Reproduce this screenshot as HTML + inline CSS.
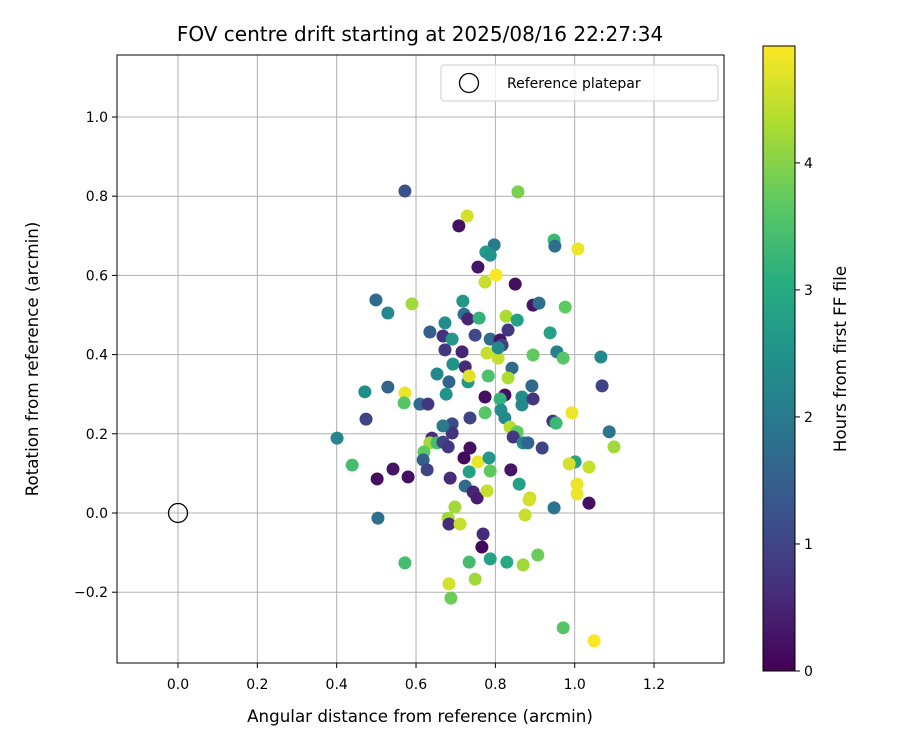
<!DOCTYPE html>
<html><head><meta charset="utf-8"><style>
body{margin:0;background:#fff;}
svg text{font-family:"DejaVu Sans","Liberation Sans",sans-serif;fill:#000;}
</style></head><body>
<svg id="chart" width="900" height="750" viewBox="0 0 900 750" xmlns="http://www.w3.org/2000/svg">
<defs>
<linearGradient id="vir" x1="0" y1="1" x2="0" y2="0">
<stop offset="0" stop-color="#440154"/><stop offset="0.125" stop-color="#472d7b"/><stop offset="0.25" stop-color="#3b528b"/><stop offset="0.375" stop-color="#2c728e"/><stop offset="0.5" stop-color="#21918c"/><stop offset="0.625" stop-color="#28ae80"/><stop offset="0.75" stop-color="#5ec962"/><stop offset="0.875" stop-color="#addc30"/><stop offset="1" stop-color="#fde725"/>
</linearGradient>
<clipPath id="plotclip"><rect x="117" y="55" width="607" height="608"/></clipPath>
</defs>
<rect width="900" height="750" fill="#fff"/>
<g id="grid"></g>
<g id="points" clip-path="url(#plotclip)"></g>
<rect x="117" y="55" width="607" height="608" fill="none" stroke="#000" stroke-width="1"/>
<g id="ticks"></g>
<text x="420" y="41" font-size="20" text-anchor="middle">FOV centre drift starting at 2025/08/16 22:27:34</text>
<text x="420" y="722" font-size="16.7" text-anchor="middle">Angular distance from reference (arcmin)</text>
<text transform="translate(38,359) rotate(-90)" font-size="16.7" text-anchor="middle">Rotation from reference (arcmin)</text>
<g>
<rect x="441" y="65" width="277" height="36" rx="3" fill="#fff" fill-opacity="0.8" stroke="#ccc"/>
<circle cx="469" cy="83" r="9.5" fill="none" stroke="#000" stroke-width="1.3"/>
<text x="507" y="88" font-size="14">Reference platepar</text>
</g>
<rect x="763" y="46" width="32" height="625" fill="url(#vir)" stroke="#000" stroke-width="1"/>
<g id="cbticks"></g>
<text transform="translate(846,359) rotate(-90)" font-size="16.7" text-anchor="middle">Hours from first FF file</text>
</svg>
<script>
const xs=[0.572,0.857,0.729,0.708,0.797,0.776,0.787,0.756,0.802,0.774,0.850,0.499,0.529,0.590,0.718,0.721,0.731,0.759,0.827,0.855,0.832,0.673,0.635,0.668,0.691,0.749,0.787,0.812,0.948,0.950,1.008,0.895,0.910,0.976,0.938,0.817,0.673,0.716,0.779,0.807,0.807,0.693,0.724,0.842,0.653,0.683,0.731,0.734,0.782,0.832,0.471,0.529,0.572,0.570,0.610,0.630,0.676,0.774,0.824,0.812,0.867,0.814,0.824,0.774,0.867,0.736,0.474,0.837,0.855,0.845,0.870,0.691,0.691,0.668,0.401,0.640,0.635,0.653,0.668,0.681,0.620,0.618,0.628,0.736,0.721,0.756,0.784,0.787,0.734,0.839,0.439,0.502,0.542,0.580,0.686,0.724,0.744,0.754,0.779,0.860,0.895,0.955,0.971,1.066,0.892,1.069,0.895,0.993,0.945,0.953,1.087,1.099,0.882,0.918,1.001,0.986,1.036,1.006,1.006,0.887,1.036,0.504,0.698,0.681,0.683,0.711,0.769,0.766,0.572,0.734,0.787,0.829,0.870,0.749,0.683,0.688,0.875,0.885,0.948,0.907,0.971,1.049];
const ys=[0.813,0.811,0.750,0.725,0.677,0.659,0.651,0.621,0.601,0.583,0.578,0.538,0.505,0.528,0.535,0.502,0.490,0.492,0.497,0.487,0.462,0.480,0.457,0.447,0.439,0.449,0.439,0.437,0.689,0.674,0.667,0.525,0.530,0.520,0.455,0.424,0.412,0.407,0.404,0.391,0.417,0.376,0.369,0.366,0.351,0.331,0.331,0.346,0.346,0.341,0.306,0.318,0.303,0.278,0.275,0.275,0.300,0.293,0.298,0.288,0.293,0.260,0.240,0.253,0.273,0.240,0.237,0.217,0.205,0.192,0.177,0.225,0.202,0.220,0.189,0.189,0.177,0.177,0.179,0.167,0.154,0.134,0.109,0.164,0.139,0.129,0.139,0.106,0.104,0.109,0.121,0.086,0.111,0.091,0.088,0.068,0.053,0.038,0.056,0.073,0.399,0.407,0.391,0.394,0.321,0.321,0.288,0.253,0.232,0.227,0.205,0.167,0.177,0.164,0.129,0.124,0.116,0.073,0.048,0.038,0.025,-0.013,0.015,-0.013,-0.028,-0.028,-0.053,-0.086,-0.126,-0.124,-0.116,-0.124,-0.131,-0.167,-0.179,-0.215,-0.005,0.033,0.013,-0.106,-0.290,-0.323];
const hours=[1.2,3.9,4.6,0.2,2.0,2.7,2.5,0.3,4.9,4.5,0.2,1.7,2.3,4.2,2.6,1.8,0.5,3.2,4.3,2.8,0.8,2.4,1.5,0.7,2.6,1.1,1.7,0.3,3.3,1.8,4.8,0.3,1.8,3.7,2.8,1.0,0.8,0.5,4.5,4.5,2.3,2.5,0.6,1.7,2.3,1.6,2.6,4.7,3.5,4.3,2.4,1.6,4.8,3.6,1.7,0.8,2.5,0.2,0.2,3.2,2.4,2.4,2.3,3.6,2.3,1.0,1.0,4.4,3.7,0.8,2.3,1.1,0.7,2.0,2.2,0.6,4.2,3.4,1.0,0.8,3.7,1.5,1.0,0.2,0.1,4.8,2.6,3.7,2.8,0.3,3.4,0.2,0.3,0.2,0.6,1.7,0.5,0.4,4.5,2.8,3.7,2.1,3.6,2.3,1.7,1.0,0.8,4.8,0.8,3.3,1.9,4.2,1.6,1.0,2.8,4.6,4.5,4.8,4.8,4.5,0.2,1.8,4.2,4.2,0.6,4.5,0.6,0.1,3.4,3.4,2.8,3.0,4.2,4.2,4.6,3.8,4.5,4.6,1.9,3.8,3.6,4.9];
const xTicks=[0,0.2,0.4,0.6,0.8,1.0,1.2];
const xTickLabels=["0.0","0.2","0.4","0.6","0.8","1.0","1.2"];
const yTicks=[-0.2,0,0.2,0.4,0.6,0.8,1.0];
const yTickLabels=["\u22120.2","0.0","0.2","0.4","0.6","0.8","1.0"];
const cTicks=[0,1,2,3,4];
const cTickLabels=["0","1","2","3","4"];
const refX=[0], refY=[0];
const hMax=4.92;

const NS="http://www.w3.org/2000/svg";
const X=v=>178+v*396.7;
const Y=v=>513-v*396;
const C=h=>671-h*(625/hMax);
const vir=[[68,1,84],[71,45,123],[59,82,139],[44,114,142],[33,145,140],[40,174,128],[94,201,98],[173,220,48],[253,231,37]];
function color(h){let t=Math.max(0,Math.min(1,h/hMax))*8;let i=Math.min(7,Math.floor(t));let f=t-i;
const a=vir[i],b=vir[i+1];return "rgb("+a.map((v,k)=>Math.round(v+(b[k]-v)*f)).join(",")+")";}
function mk(tag,attrs,parent){const e=document.createElementNS(NS,tag);for(const k in attrs)e.setAttribute(k,attrs[k]);parent.appendChild(e);return e;}
const grid=document.getElementById('grid'),ticks=document.getElementById('ticks'),pts=document.getElementById('points'),cb=document.getElementById('cbticks');
xTicks.forEach((v,i)=>{
 const g=mk('line',{x1:X(v),x2:X(v),y1:55,y2:663,stroke:'#b0b0b0','stroke-width':1},grid);
 
 const t=mk('line',{x1:X(v),x2:X(v),y1:663,y2:668,stroke:'#000','stroke-width':1},ticks);
 
 const l=mk('text',{x:X(v),y:689,'font-size':14,'text-anchor':'middle'},ticks);l.textContent=xTickLabels[i];
 
});
yTicks.forEach((v,i)=>{
 const g=mk('line',{x1:117,x2:724,y1:Y(v),y2:Y(v),stroke:'#b0b0b0','stroke-width':1},grid);
 
 const t=mk('line',{x1:112,x2:117,y1:Y(v),y2:Y(v),stroke:'#000','stroke-width':1},ticks);
 
 const l=mk('text',{x:108,y:Y(v)+5,'font-size':14,'text-anchor':'end'},ticks);l.textContent=yTickLabels[i];
 
});
xs.forEach((v,i)=>{
 const c=mk('circle',{cx:X(v),cy:Y(ys[i]),r:6.5,fill:color(hours[i])},pts);
 
});
refX.forEach((v,i)=>{
 const c=mk('circle',{cx:X(v),cy:Y(refY[i]),r:9.5,fill:'none',stroke:'#000','stroke-width':1.3},pts);
 
});
cTicks.forEach((v,i)=>{
 const t=mk('line',{x1:795,x2:800,y1:C(v),y2:C(v),stroke:'#000','stroke-width':1},cb);
 
 const l=mk('text',{x:804,y:C(v)+5,'font-size':14},cb);l.textContent=cTickLabels[i];
 
});
</script>
</body></html>
